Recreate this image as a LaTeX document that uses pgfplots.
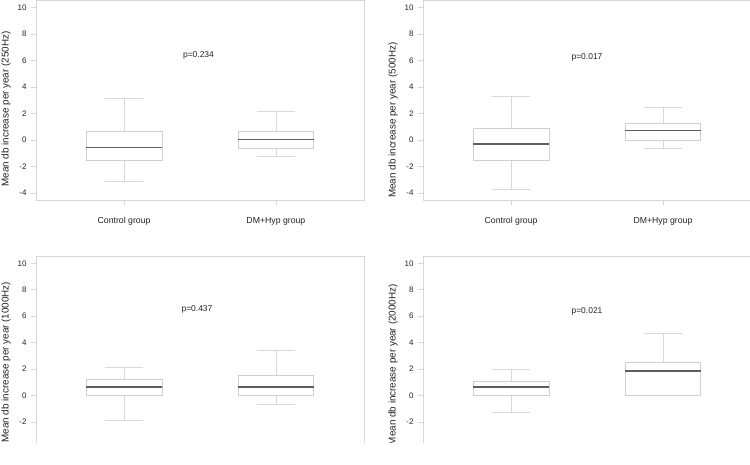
\documentclass[border=0pt]{standalone}
\usepackage{fontspec}
\setmainfont{Liberation Sans}
\usepackage{pgfplots}
\pgfplotsset{compat=1.18}
\usepgfplotslibrary{statistics}
\definecolor{framegray}{HTML}{D6D6D6}
\definecolor{boxgray}{HTML}{CFCFCF}
\definecolor{whiskgray}{HTML}{D9D9D9}
\definecolor{medgray}{HTML}{5E5E5E}
\definecolor{txt}{HTML}{222222}
\newcommand\ticksize{\fontsize{8}{9}\selectfont}
\newcommand\catsize{\fontsize{8.75}{10}\selectfont}
\newcommand\labsize{\fontsize{9.9}{12}\selectfont}
\newcommand\psize{\fontsize{8.5}{10}\selectfont}
\pgfplotsset{panel/.style={
  scale only axis, width=328bp, height=199.5bp,
  xmin=0.42, xmax=2.58, ymin=-4.53, ymax=10.55,
  xtick={1,2}, xticklabels={Control group,DM+Hyp group},
  ytick={-4,-2,0,2,4,6,8,10},
  tick align=outside, xtick pos=bottom, ytick pos=left,
  major tick length=5bp,
  axis line style={draw=framegray, line width=0.8pt},
  tick style={draw=framegray, line width=0.7pt},
  ticklabel style={font=\ticksize, text=txt},
  xticklabel style={font=\catsize, yshift=-9bp},
  yticklabel style={xshift=-1bp},
  /pgf/number format/assume math mode=true,
  every axis y label/.style={at={(axis description cs:-0.0915,0.456)}, rotate=90, anchor=center, font=\labsize, text=txt},
  boxplot/draw direction=y,
  boxplot/box extend=0.5,
  boxplot/whisker extend=0.25,
  boxplot/every box/.style={draw=boxgray, fill=white, line width=0.8pt},
  boxplot/every whisker/.style={draw=whiskgray, line width=0.8pt},
  boxplot/every median/.style={draw=medgray, line width=1.3pt},
  clip=false,
}}
\begin{document}
\begin{tikzpicture}
\path[use as bounding box] (0,0) rectangle (750bp,465bp);
\clip (0,0) rectangle (750bp,465bp);
% 250 Hz
\begin{axis}[panel, at={(36bp,265bp)}, anchor=south west, ylabel={Mean db increase per year (250Hz)}]
\addplot[draw=boxgray, boxplot prepared={draw position=1, lower whisker=-3.1, lower quartile=-1.5, median=-0.55, upper quartile=0.65, upper whisker=3.15}] coordinates {};
\addplot[draw=boxgray, boxplot prepared={draw position=2, lower whisker=-1.25, lower quartile=-0.6, median=0.05, upper quartile=0.65, upper whisker=2.2}] coordinates {};
\node[font=\psize, text=txt] at (axis cs:1.49,6.4) {p=0.234};
\end{axis}
% 500 Hz
\begin{axis}[panel, at={(423bp,265bp)}, anchor=south west, ylabel={Mean db increase per year (500Hz)},
  every axis y label/.append style={at={(axis description cs:-0.0915,0.40)}}]
\addplot[draw=boxgray, boxplot prepared={draw position=1, lower whisker=-3.75, lower quartile=-1.5, median=-0.3, upper quartile=0.9, upper whisker=3.3}] coordinates {};
\addplot[draw=boxgray, boxplot prepared={draw position=2, lower whisker=-0.6, lower quartile=0.0, median=0.7, upper quartile=1.25, upper whisker=2.45}] coordinates {};
\node[font=\psize, text=txt] at (axis cs:1.5,6.28) {p=0.017};
\end{axis}
\begin{scope}
\clip (0,22bp) rectangle (750bp,465bp);
% 1000 Hz
\begin{axis}[panel, at={(36bp,9.5bp)}, anchor=south west, xticklabels={}, ylabel={Mean db increase per year (1000Hz)},
  every axis y label/.append style={at={(axis description cs:-0.0915,0.468)}}]
\addplot[draw=boxgray, boxplot prepared={draw position=1, lower whisker=-1.9, lower quartile=0.0, median=0.65, upper quartile=1.25, upper whisker=2.1}] coordinates {};
\addplot[draw=boxgray, boxplot prepared={draw position=2, lower whisker=-0.65, lower quartile=0.0, median=0.65, upper quartile=1.55, upper whisker=3.4}] coordinates {};
\node[font=\psize, text=txt] at (axis cs:1.48,6.5) {p=0.437};
\end{axis}
% 2000 Hz
\begin{axis}[panel, at={(423bp,9.5bp)}, anchor=south west, xticklabels={}, ylabel={Mean db increase per year (2000Hz)},
  every axis y label/.append style={at={(axis description cs:-0.0915,0.455)}}]
\addplot[draw=boxgray, boxplot prepared={draw position=1, lower whisker=-1.25, lower quartile=0.0, median=0.65, upper quartile=1.1, upper whisker=2.0}] coordinates {};
\addplot[draw=boxgray, boxplot prepared={draw position=2, lower whisker=0.0, lower quartile=0.0, median=1.85, upper quartile=2.5, upper whisker=4.7}] coordinates {};
\node[font=\psize, text=txt] at (axis cs:1.5,6.35) {p=0.021};
\end{axis}
\end{scope}
\end{tikzpicture}
\end{document}
